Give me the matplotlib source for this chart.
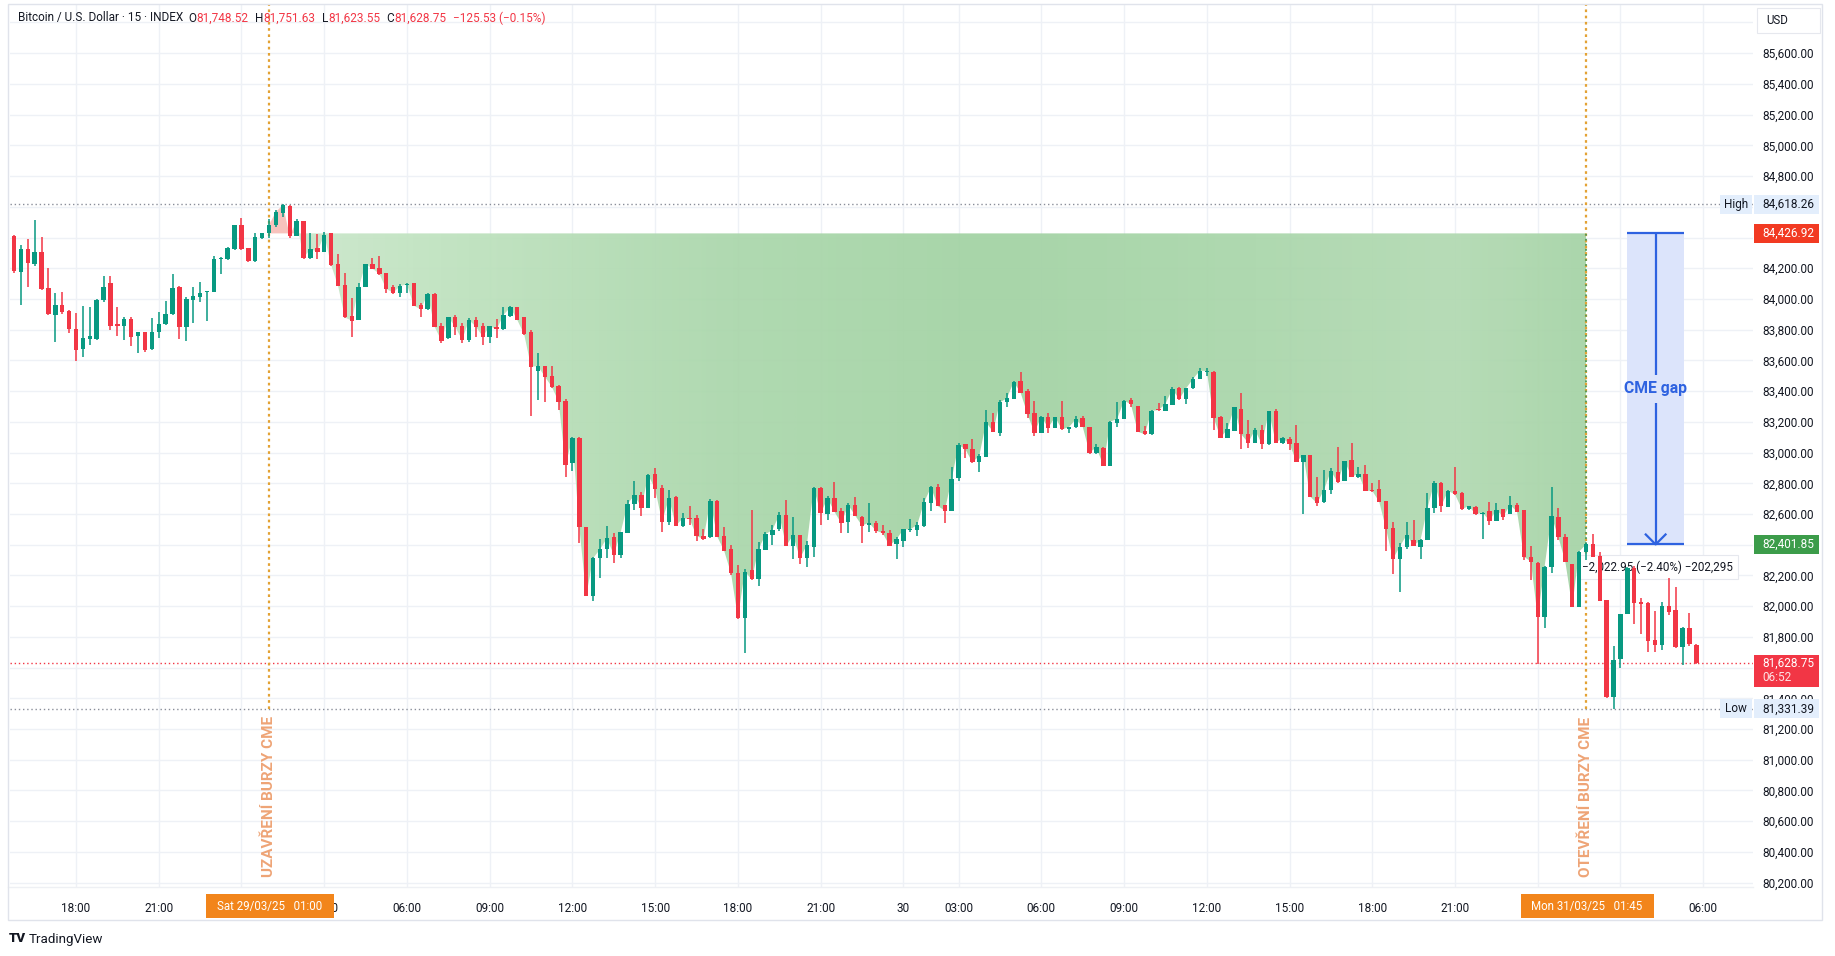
import matplotlib
matplotlib.use("Agg")
import matplotlib.pyplot as plt
import numpy as np
from matplotlib.patches import Rectangle
from matplotlib.path import Path
from matplotlib.colors import LinearSegmentedColormap

plt.rcParams['font.family'] = ['Roboto', 'DejaVu Sans']

# ---------------- data ----------------
bar_index = list(range(-9, 236))

opens = [84412, 84177, 84323, 84227, 84305, 84069, 83895, 83960, 83921,
         83804, 83674, 83741, 83739, 83993, 84104, 83837, 83824, 83869, 83761,
         83782, 83674, 83787, 83837, 83902, 84078, 83819, 83993, 84015, 84043,
         84047, 84258, 84258, 84325, 84481, 84331, 84249, 84399, 84431, 84481,
         84557, 84605, 84412, 84505, 84264, 84331, 84309, 84427, 84227, 84088,
         83887, 83865, 84080, 84227, 84201, 84169, 84080, 84041, 84088, 84101,
         83962, 83936, 84032, 83824, 83744, 83880, 83824, 83733, 83863, 83824,
         83755, 83820, 83802, 83889, 83945, 83880, 83785, 83533, 83563, 83498,
         83433, 83336, 82930, 83093, 82513, 82068, 82312, 82370, 82453, 82335,
         82479, 82665, 82724, 82641, 82860, 82772, 82550, 82713, 82524, 82576,
         82576, 82457, 82448, 82685, 82457, 82372, 82218, 81925, 82236, 82175,
         82366, 82463, 82500, 82594, 82392, 82463, 82312, 82387, 82772, 82600,
         82702, 82620, 82550, 82659, 82583, 82529, 82544, 82492, 82479, 82403,
         82427, 82494, 82496, 82524, 82674, 82778, 82659, 82622, 82832, 83054,
         83021, 82941, 82974, 83197, 83130, 83327, 83351, 83464, 83399, 83256,
         83130, 83230, 83162, 83230, 83151, 83165, 83223, 83165, 83000, 83032,
         82915, 83195, 83219, 83343, 83303, 83141, 83119, 83284, 83273, 83310,
         83418, 83347, 83418, 83479, 83525, 83523, 83234, 83097, 83143, 83284,
         83121, 83065, 83147, 83054, 83271, 83065, 83089, 83060, 82941, 82984,
         82713, 82676, 82757, 82872, 82815, 82952, 82843, 82861, 82757, 82763,
         82685, 82507, 82307, 82383, 82431, 82388, 82431, 82637, 82804, 82648,
         82750, 82735, 82631, 82648, 82600, 82620, 82557, 82631, 82600, 82659,
         82626, 82322, 82283, 81928, 82258, 82583, 82453, 82275, 81997, 82355,
         82405, 82327, 82040, 81407, 81654, 81949, 82251, 82023, 82023, 81780,
         81747, 82004, 81975, 81732, 81860, 81748.52]

highs = [84416, 84351, 84388, 84514, 84401, 84199, 84036, 84043, 83925,
         83906, 83954, 83950, 84000, 84149, 84147, 83945, 83884, 83884, 83785,
         83787, 83874, 83917, 83986, 84162, 84082, 84015, 84075, 84108, 84055,
         84279, 84275, 84340, 84483, 84527, 84333, 84431, 84431, 84518, 84579,
         84618.26, 84610, 84518, 84510, 84427, 84420, 84438, 84430, 84290, 84167,
         84004, 84101, 84229, 84264, 84279, 84172, 84091, 84095, 84101, 84106,
         83971, 84036, 84041, 83841, 83885, 83896, 83841, 83874, 83885, 83846,
         83826, 83867, 83945, 83954, 83948, 83885, 83798, 83646, 83566, 83564,
         83440, 83347, 83104, 83099, 82515, 82322, 82435, 82522, 82479, 82485,
         82691, 82815, 82746, 82860, 82897, 82789, 82756, 82715, 82604, 82654,
         82594, 82500, 82698, 82688, 82513, 82398, 82268, 82240, 82626, 82420,
         82481, 82529, 82611, 82691, 82583, 82466, 82427, 82775, 82778, 82717,
         82811, 82637, 82674, 82713, 82585, 82674, 82555, 82529, 82496, 82453,
         82502, 82566, 82546, 82702, 82783, 82793, 82661, 82908, 83060, 83056,
         83086, 82989, 83277, 83260, 83343, 83390, 83466, 83527, 83412, 83336,
         83236, 83260, 83232, 83336, 83167, 83238, 83238, 83167, 83054, 83034,
         83203, 83332, 83340, 83353, 83305, 83173, 83277, 83321, 83368, 83429,
         83425, 83420, 83490, 83549, 83549, 83533, 83236, 83191, 83297, 83386,
         83212, 83158, 83180, 83273, 83282, 83099, 83104, 83180, 82986, 82986,
         82839, 82887, 82898, 83039, 82947, 83065, 82904, 82919, 82800, 82822,
         82687, 82550, 82409, 82550, 82561, 82435, 82735, 82815, 82806, 82757,
         82908, 82746, 82655, 82652, 82611, 82676, 82670, 82633, 82717, 82670,
         82628, 82392, 82285, 82260, 82778, 82641, 82470, 82277, 82357, 82414,
         82468, 82355, 82042, 81741, 81951, 82253, 82262, 82051, 82025, 81971,
         82030, 82182, 82127, 81867, 81954, 81751.63]

lows = [84166, 83960, 84080, 84214, 84060, 83895, 83722, 83902, 83780,
        83598, 83624, 83700, 83733, 83982, 83798, 83761, 83733, 83696, 83646,
        83657, 83670, 83743, 83830, 83895, 83741, 83728, 83841, 83982, 83858,
        84045, 84160, 84253, 84322, 84322, 84242, 84242, 84392, 84394, 84470,
        84531, 84399, 84410, 84262, 84262, 84258, 84305, 84214, 84084, 83878,
        83750, 83860, 84078, 84195, 84158, 84041, 84032, 84010, 84036, 83954,
        83884, 83930, 83815, 83715, 83740, 83765, 83711, 83722, 83755, 83700,
        83715, 83744, 83800, 83880, 83860, 83765, 83238, 83342, 83331, 83418,
        83277, 82839, 82882, 82413, 82066, 82036, 82181, 82312, 82279, 82316,
        82477, 82626, 82589, 82639, 82702, 82485, 82528, 82522, 82518, 82528,
        82427, 82430, 82446, 82451, 82359, 82203, 81917, 81693, 82173, 82131,
        82364, 82398, 82492, 82390, 82305, 82272, 82257, 82322, 82528, 82561,
        82613, 82478, 82474, 82588, 82414, 82485, 82474, 82464, 82392, 82305,
        82383, 82485, 82459, 82513, 82622, 82650, 82544, 82620, 82815, 82963,
        82935, 82876, 82972, 83134, 83110, 83295, 83349, 83388, 83223, 83110,
        83128, 83125, 83160, 83147, 83130, 83163, 83167, 82989, 82989, 82913,
        82913, 83169, 83217, 83295, 83134, 83117, 83117, 83273, 83271, 83308,
        83345, 83314, 83416, 83477, 83499, 83147, 83095, 83095, 83141, 83023,
        83032, 83063, 83021, 83052, 83063, 83054, 83017, 82939, 82600, 82711,
        82655, 82674, 82730, 82804, 82813, 82841, 82832, 82750, 82741, 82679,
        82362, 82210, 82090, 82372, 82392, 82307, 82429, 82609, 82615, 82646,
        82726, 82626, 82629, 82594, 82438, 82529, 82555, 82561, 82598, 82613,
        82301, 82171, 81624, 81856, 82214, 82431, 82288, 81995, 81995, 82301,
        82320, 82032, 81405, 81331.39, 81600, 81947, 81884, 81817, 81704, 81704,
        81715, 81943, 81730, 81617, 81741, 81623.55]

closes = [84182, 84323, 84236, 84305, 84067, 83902, 83960, 83917, 83804,
          83667, 83746, 83761, 83993, 84078, 83824, 83824, 83869, 83754, 83782,
          83667, 83782, 83837, 83902, 84069, 83819, 84002, 84019, 84036, 84051,
          84260, 84264, 84331, 84481, 84325, 84247, 84405, 84426.92, 84481, 84568,
          84611, 84412, 84505, 84269, 84325, 84307, 84416, 84221, 84086, 83880,
          83858, 84075, 84227, 84197, 84164, 84065, 84041, 84084, 84095, 83956,
          83932, 84030, 83820, 83728, 83880, 83820, 83733, 83863, 83820, 83755,
          83824, 83802, 83896, 83945, 83863, 83770, 83559, 83563, 83494, 83429,
          83331, 82919, 83093, 82513, 82068, 82312, 82370, 82442, 82335, 82481,
          82665, 82724, 82641, 82854, 82761, 82550, 82702, 82524, 82572, 82568,
          82457, 82437, 82685, 82453, 82361, 82214, 81925, 82225, 82175, 82370,
          82468, 82496, 82594, 82392, 82463, 82312, 82398, 82772, 82604, 82702,
          82615, 82539, 82659, 82590, 82524, 82544, 82492, 82475, 82394, 82435,
          82500, 82500, 82529, 82676, 82774, 82652, 82622, 82826, 83050, 83021,
          82937, 82978, 83197, 83136, 83327, 83353, 83460, 83390, 83251, 83130,
          83234, 83162, 83230, 83151, 83165, 83217, 83169, 83000, 83034, 82915,
          83201, 83219, 83338, 83314, 83136, 83119, 83271, 83277, 83316, 83414,
          83347, 83418, 83479, 83533, 83531, 83227, 83097, 83152, 83295, 83119,
          83065, 83147, 83054, 83271, 83065, 83093, 83056, 82941, 82984, 82713,
          82670, 82757, 82880, 82806, 82945, 82843, 82861, 82752, 82750, 82681,
          82503, 82307, 82388, 82464, 82394, 82431, 82637, 82804, 82652, 82750,
          82728, 82631, 82652, 82598, 82609, 82557, 82626, 82583, 82659, 82615,
          82322, 82290, 81928, 82258, 82587, 82448, 82290, 81997, 82355, 82401.85,
          82322, 82034, 81407, 81650, 81949, 82251, 82019, 82017, 81774, 81747,
          82004, 81964, 81732, 81860, 81752, 81628.75]

# time-axis ticks (labels covered by the date badges are left empty)
tick_index = [0, 12, 24, 36, 48, 60, 72, 84, 96, 108, 120, 128, 140, 152,
              164, 176, 188, 200, 212, 224, 236]
tick_labels = ['18:00', '21:00', '', '03:00', '06:00', '09:00', '12:00',
               '15:00', '18:00', '21:00', '30', '03:00', '06:00', '09:00',
               '12:00', '15:00', '18:00', '21:00', '', '', '06:00']
price_ticks = list(range(80200, 85801, 200))

cme_close_index = 28
cme_open_index = 219
cme_close_price = 84426.92
cme_open_price = 82401.85
high_price = 84618.26
low_price = 81331.39
last_price = 81628.75
countdown = '06:52'
cme_close_label = 'Sat 29/03/25   01:00'
cme_open_label = 'Mon 31/03/25   01:45'
measure_text = '\u22122,022.95 (\u22122.40%) \u2212202,295'
gap_box_index = (225.0, 233.2)

header_title = 'Bitcoin / U.S. Dollar \u00b7 15 \u00b7 INDEX'
header_ohlc = [('O', '81,748.52'), ('H', '81,751.63'), ('L', '81,623.55'), ('C', '81,628.75')]
header_change = '\u2212125.53 (\u22120.15%)'

# ---------------- style ----------------
W, H, DPI = 1835, 956, 100
UP = '#089981'
DOWN = '#F23645'
TXT = '#131722'
GRID = '#eef1f6'

def fxp(px):
    return px / W

def fyp(py):
    return 1 - py / H

fig = plt.figure(figsize=(W / DPI, H / DPI), dpi=DPI)
fig.patch.set_facecolor('white')

pane_l, pane_r, pane_t, pane_b = 10, 1753, 5, 887
XLIM = (-9.572, 243.22)
px_per_price = 0.1536
YLIM = (84618.26 - (pane_b - 204) / px_per_price, 84618.26 + (204 - pane_t) / px_per_price)

ax = fig.add_axes([fxp(pane_l), fyp(pane_b), fxp(pane_r) - fxp(pane_l), fyp(pane_t) - fyp(pane_b)])
ax.set_xlim(*XLIM)
ax.set_ylim(*YLIM)
for s in ax.spines.values():
    s.set_visible(False)

x = np.array(bar_index, dtype=float)
o = np.array(opens, dtype=float)
h = np.array(highs, dtype=float)
l = np.array(lows, dtype=float)
c = np.array(closes, dtype=float)

# price-axis labels hidden under the price badges / USD box
badge_prices = [high_price, cme_close_price, cme_open_price, last_price]
def price_label(p):
    ypx_from_top = pane_t + (YLIM[1] - p) * px_per_price
    if ypx_from_top < 36:
        return ''
    if any(abs(p - b) * px_per_price < 7 for b in badge_prices):
        return ''
    return f'{p:,.2f}'

# grid + ticks
ax.set_xticks(tick_index, labels=tick_labels)
ax.set_yticks(price_ticks, labels=[price_label(p) for p in price_ticks])
ax.yaxis.tick_right()
ax.grid(True, color=GRID, lw=1.0)
ax.tick_params(axis='x', length=0, pad=11.0, labelsize=8.5, labelcolor=TXT)
ax.tick_params(axis='y', length=0, pad=6.5, labelsize=8.5, labelcolor=TXT)

# gap fill (between CME close level and closes)
sel = (x >= cme_close_index) & (x <= cme_open_index)
xs, cs = x[sel], c[sel]
green_poly = ax.fill_between(xs, cs, cme_close_price, where=cs <= cme_close_price,
                             interpolate=True, facecolor='none', edgecolor='none', zorder=1.7)
ax.fill_between(xs, cs, cme_close_price, where=cs >= cme_close_price,
                interpolate=True, facecolor='#f7c2bd', edgecolor='none', zorder=1.7)
cmap = LinearSegmentedColormap.from_list('gapfill', [
    (0.0, '#cbe8cb'), (0.15, '#bde1bd'), (0.35, '#aad7ab'), (0.55, '#a2d2a3'),
    (0.75, '#a9d6aa'), (0.9, '#b2dab2'), (1.0, '#a5d3a6')])
grad = cmap(np.linspace(0, 1, 400))[None, :, :3]
im = ax.imshow(grad, extent=[xs[0], xs[-1], cs.min() - 10, cme_close_price],
               aspect='auto', interpolation='bilinear', zorder=1.7, alpha=0.93)
im.set_clip_path(Path.make_compound_path(*green_poly.get_paths()), transform=ax.transData)
ax.set_xlim(*XLIM)
ax.set_ylim(*YLIM)

# horizontal reference lines
ax.axhline(high_price, color='#8a8e99', lw=1, ls=(0, (1, 2)), zorder=3)
ax.axhline(low_price, color='#8a8e99', lw=1, ls=(0, (1, 2)), zorder=3)
ax.axhline(last_price, color=DOWN, lw=1, ls=(0, (1, 2)), zorder=3)

# CME close/open vertical markers
ytop = YLIM[1]
ax.vlines([cme_close_index, cme_open_index], low_price, ytop, colors='#e3a234',
          lw=1.6, linestyles=(0, (1.2, 1.6)), zorder=3)
ax.vlines(cme_open_index, c[bar_index.index(cme_open_index)], cme_close_price, colors='#4e9a58',
          lw=1.3, linestyles=(0, (1, 1.8)), zorder=3.2)
ax.text(cme_close_index, 80240, 'UZAV\u0158EN\u00cd BURZY CME', rotation=90, ha='center', va='bottom',
        fontsize=11, fontweight='bold', color='#eea476', zorder=3)
ax.text(cme_open_index, 80240, 'OTEV\u0158EN\u00cd BURZY CME', rotation=90, ha='center', va='bottom',
        fontsize=11, fontweight='bold', color='#eea476', zorder=3)

# CME gap measurement box
gx0, gx1 = gap_box_index
gcx = (gx0 + gx1) / 2
gmid = (cme_close_price + cme_open_price) / 2
BLUE = '#2e62e0'
ax.add_patch(Rectangle((gx0, cme_open_price), gx1 - gx0, cme_close_price - cme_open_price,
                       facecolor='#dce4fb', edgecolor='none', zorder=2))
ax.hlines([cme_close_price, cme_open_price], gx0, gx1, colors=BLUE, lw=1.6, zorder=4)
ax.vlines(gcx, gmid + 92, cme_close_price, colors=BLUE, lw=1.6, zorder=4)
ax.vlines(gcx, cme_open_price, gmid - 92, colors=BLUE, lw=1.6, zorder=4)
ax.plot([gcx - 1.55, gcx, gcx + 1.55], [cme_open_price + 70, cme_open_price, cme_open_price + 70],
        color=BLUE, lw=1.6, zorder=4, solid_capstyle='butt')
ax.text(gcx, gmid, 'CME gap', ha='center', va='center', fontsize=11.3, fontweight='bold',
        color=BLUE, zorder=4)

# measurement label
ax.annotate(measure_text, xy=(cme_open_index, cme_open_price), xytext=(-4, -23),
            textcoords='offset pixels', ha='left', va='center', fontsize=8.4, color=TXT,
            bbox=dict(boxstyle='square,pad=0.45', fc='white', ec='#e6e8ee', lw=0.8), zorder=4.5)

# candles
colors = np.where(c >= o, UP, DOWN)
ax.vlines(x, l, h, colors=colors, lw=1.1, zorder=5)
body_bot = np.minimum(o, c)
body_h = np.maximum(np.abs(c - o), 7)
ax.bar(x, body_h, bottom=body_bot, width=0.64, color=colors, linewidth=0, zorder=6)

# ---------------- overlays (figure pixel coords) ----------------
def ypix(price):
    return H - ax.transData.transform((0, price))[1]

def xpix(idx):
    return ax.transData.transform((idx, 0))[0]

def box(x0, y0, x1, y1, fc, ec='none', z=5, lw=0.8):
    fig.add_artist(Rectangle((fxp(x0), fyp(y1)), fxp(x1) - fxp(x0), (y1 - y0) / H,
                             transform=fig.transFigure, facecolor=fc, edgecolor=ec, lw=lw, zorder=z))

def ftext(xp, yp, s, **kw):
    kw.setdefault('fontsize', 8.5)
    kw.setdefault('color', TXT)
    kw.setdefault('va', 'center')
    return fig.text(fxp(xp), fyp(yp), s, zorder=kw.pop('zorder', 6), **kw)

# chart frame
box(8, 4, 1822, 920, 'none', ec='#e0e3eb', z=4, lw=1)
fig.add_artist(plt.Line2D([fxp(8), fxp(pane_r)], [fyp(pane_b), fyp(pane_b)],
                          transform=fig.transFigure, color='#eef0f4', lw=1, zorder=0.5))

# USD
box(1757, 8, 1820, 33, 'white', ec='#e6e8ee')
ftext(1766, 21, 'USD', fontsize=8.3)

# price badges
LIGHT = '#e3eefc'
yh = ypix(high_price)
box(1720, yh - 9.5, 1752, yh + 9.5, LIGHT)
box(1754, yh - 9.5, 1819, yh + 9.5, LIGHT)
ftext(1736, yh, 'High', ha='center')
ftext(1762, yh, f'{high_price:,.2f}')

yl = ypix(low_price)
box(1720, yl - 9.5, 1752, yl + 9.5, LIGHT)
box(1754, yl - 9.5, 1819, yl + 9.5, LIGHT)
ftext(1736, yl, 'Low', ha='center')
ftext(1762, yl, f'{low_price:,.2f}')

yc = ypix(cme_close_price)
box(1754, yc - 9.5, 1819, yc + 9.5, '#f23a22')
ftext(1762, yc, f'{cme_close_price:,.2f}', color='white')

yo = ypix(cme_open_price)
box(1754, yo - 9.5, 1819, yo + 9.5, '#3c9c4a')
ftext(1762, yo, f'{cme_open_price:,.2f}', color='white')

ylp = ypix(last_price)
box(1754, ylp - 8.5, 1819, ylp + 24, DOWN)
ftext(1762, ylp, f'{last_price:,.2f}', color='white')
ftext(1762, ylp + 14, countdown, color='#fde2e4')

# time badges
ORANGE = '#f2851b'
for idx, lab, wpx in [(cme_close_index, cme_close_label, 128), (cme_open_index, cme_open_label, 133)]:
    xc = xpix(idx)
    box(xc - wpx / 2 + 1, 894, xc + wpx / 2 + 1, 918, ORANGE)
    ftext(xc + 1, 906.5, lab, color='white', ha='center', fontsize=8.3)

# header, laid out piece by piece
renderer = fig.canvas.get_renderer()
pieces = [(header_title, TXT, 5)]
for k, v in header_ohlc:
    pieces += [(k, TXT, 0.5), (v, DOWN, 6)]
pieces += [(header_change, DOWN, 0)]
cursor = 18
for s, col, gap in pieces:
    t = ftext(cursor, 18, s, fontsize=8.5, color=col)
    bb = t.get_window_extent(renderer)
    cursor = bb.x1 + gap

# footer logo
ftext(9, 939, 'TV', fontsize=9.5, fontweight='heavy')
ftext(29, 939, 'TradingView', fontsize=9.6)

fig.savefig('out.png', dpi=DPI, facecolor='white')
